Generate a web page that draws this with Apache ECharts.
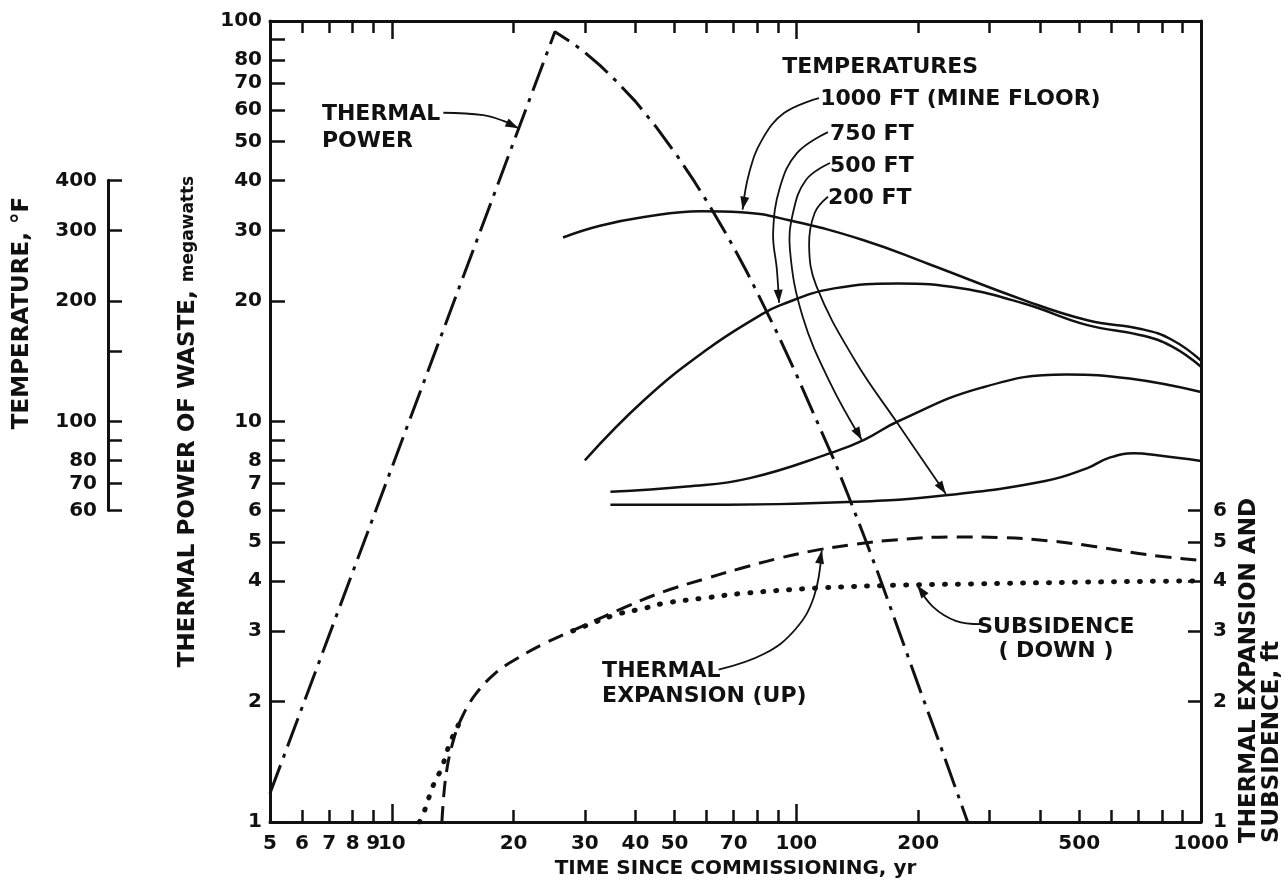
<!DOCTYPE html>
<html>
<head>
<meta charset="utf-8">
<title>Thermal power, temperatures and uplift</title>
<script src="https://cdn.jsdelivr.net/npm/echarts@6.0.0/dist/echarts.min.js"></script>
<style>
  html, body { margin: 0; background: #fff; }
  #chart { width: 1287px; height: 887px; }
</style>
</head>
<body>
<div id="chart"></div>
<script>
// ---- axis ticks / labels ----
const xTickValues = [5, 6, 7, 8, 9, 10, 20, 30, 40, 50, 60, 70, 80, 90, 100, 200, 300, 400, 500, 600, 700, 800, 900, 1000];
const xLabelValues = [5, 6, 7, 8, 9, 10, 20, 30, 40, 50, 70, 100, 200, 500, 1000];
const xMajorTicks = [10, 100];
const yTickValues = [1, 2, 3, 4, 5, 6, 7, 8, 9, 10, 20, 30, 40, 50, 60, 70, 80, 90, 100];
const yLabelValues = [1, 2, 3, 4, 5, 6, 7, 8, 10, 20, 30, 40, 50, 60, 70, 80, 100];
const ftTickValues = [2, 3, 4, 5, 6];
const ftLabelValues = [1, 2, 3, 4, 5, 6];
const tempTickValues = [60, 70, 80, 90, 100, 150, 200, 300, 400];
const tempLabelValues = [60, 70, 80, 100, 200, 300, 400];

// ---- thermal power of waste (MW) ----
const powerYears = [5, 25.3, 28, 30, 32.7, 36, 40, 45, 51, 56, 61, 66, 70, 75, 80, 90, 100, 112, 124, 135, 147, 160, 180, 203, 227, 265];
const powerMW = [1.18, 94, 88, 83.5, 77.5, 70.5, 63, 54.4, 45.7, 39.7, 34.6, 30.2, 27.2, 23.9, 21.0, 16.5, 13.1, 10.1, 8.0, 6.45, 5.17, 4.12, 2.96, 2.11, 1.55, 1.0];

// ---- temperatures (plotted on power scale, degF / 10) ----
const t1000Years = [26.5, 32.7, 42, 58, 73, 96, 146, 213, 365, 524, 715, 847, 1000];
const t1000 = [28.8, 30.8, 32.4, 33.5, 33.3, 31.8, 28.4, 24.7, 20.1, 17.9, 17.0, 16.0, 14.2];
const t750Years = [30, 42, 60, 80.5, 91, 124, 178, 255, 365, 524, 715, 847, 1000];
const t750 = [8.0, 11.3, 15.1, 18.3, 19.5, 21.5, 22.1, 21.5, 19.7, 17.4, 16.4, 15.4, 13.7];
const t500Years = [34.7, 53.6, 76.7, 124, 147, 178, 287, 465, 666, 1000];
const t500 = [6.68, 6.88, 7.22, 8.4, 9.0, 10.0, 12.15, 13.1, 12.8, 11.85];
const t200Years = [34.7, 68, 140, 237, 412, 524, 590, 682, 788, 1000];
const t200 = [6.2, 6.2, 6.3, 6.55, 7.1, 7.65, 8.1, 8.33, 8.22, 7.97];

// ---- thermal expansion (up) and subsidence (down), ft ----
const expYears = [13.3, 13.6, 14.2, 15.0, 16.2, 18, 20, 24, 30, 38, 47, 60, 73, 90, 113, 140, 175, 242, 320, 418, 550, 748, 1000];
const expFt = [1.0, 1.3, 1.6, 1.85, 2.1, 2.35, 2.53, 2.80, 3.10, 3.45, 3.76, 4.06, 4.3, 4.55, 4.78, 4.94, 5.06, 5.15, 5.13, 5.04, 4.87, 4.64, 4.5];
const subYears = [11.7, 12.1, 12.6, 13.3, 13.9, 14.5, 15.0, 20, 28, 31.4, 36, 42.3, 47.3, 60, 73, 113, 175, 270, 500, 748, 1000];
const subFt = [1.0, 1.08, 1.22, 1.37, 1.57, 1.72, 1.85, '-', 3.0, 3.14, 3.3, 3.42, 3.52, 3.63, 3.72, 3.84, 3.9, 3.93, 3.97, 3.99, 4.0];

// ---- annotations (positions in yr / MW data space) ----
const notes = [
  { text: 'THERMAL', at: [6.72, 58.6], align: 'left' },
  { text: 'POWER', at: [6.72, 50.2], align: 'left' },
  { text: 'TEMPERATURES', at: [92.2, 76.7], align: 'left' },
  { text: '1000 FT (MINE FLOOR)', at: [114.5, 63.9], align: 'left' },
  { text: '750 FT', at: [121.1, 52.2], align: 'left' },
  { text: '500 FT', at: [121.1, 43.4], align: 'left' },
  { text: '200 FT', at: [119.7, 36.1], align: 'left' },
  { text: 'THERMAL', at: [33.1, 2.38], align: 'left' },
  { text: 'EXPANSION (UP)', at: [33.1, 2.06], align: 'left' },
  { text: 'SUBSIDENCE', at: [438, 3.06], align: 'center' },
  { text: '( DOWN )', at: [438, 2.67], align: 'center' }
];
const leaders = [
  [[13.41, 59.0], [16.84, 58.2], [18.87, 56.3], [20.55, 54.0]],
  [[113.7, 64.2], [93.2, 58.9], [82.2, 50.5], [76.4, 41.7], [73.6, 33.8]],
  [[119.7, 52.8], [100.3, 46.8], [91.1, 38.5], [87.6, 29.6], [89.5, 23.9], [90.6, 19.8]],
  [[121.1, 44.2], [105.6, 40.1], [98.1, 33.2], [96.4, 26.8], [103.6, 18.3], [121.1, 12.5], [145, 9.0]],
  [[119.7, 36.4], [111, 33.2], [107.5, 27.5], [112, 21.8], [139.6, 14.2], [177.8, 9.9], [234, 6.6]],
  [[64.2, 2.4], [83.3, 2.63], [99.2, 3.02], [110.5, 3.65], [115.5, 4.76]],
  [[288, 3.12], [247.6, 3.18], [217.3, 3.45], [199, 3.9]]
];

const INK = '#111';
const FONT = 'DejaVu Sans';
const G = { left: 270, top: 21, width: 931, height: 801 };
// temperature scale (degF) sits beside the power scale: 40 MW <-> 400 F, 6 MW <-> 60 F
const yOf = v => G.top + G.height * (2 - Math.log10(v)) / 2;
const TG = { left: 108, top: yOf(40), height: yOf(6) - yOf(40), width: 1 };

const pairs = (xs, ys) => xs.map((x, i) => [x, ys[i]]);
const tickLabel = { color: INK, fontFamily: FONT, fontWeight: 'bold', fontSize: 20, formatter: v => String(+v.toPrecision(6)) };
const axisLine = { show: true, lineStyle: { color: INK, width: 3 } };
const tick = (vals, len) => ({ show: true, inside: true, length: len, customValues: vals, lineStyle: { color: INK, width: 2.5 } });

const chart = echarts.init(document.getElementById('chart'));

const logX = (extra) => Object.assign({ gridIndex: 0, type: 'log', logBase: 10, min: 5, max: 1000, splitLine: { show: false }, minorTick: { show: false } }, extra);
const logY = (extra) => Object.assign({ gridIndex: 0, type: 'log', logBase: 10, min: 1, max: 100, splitLine: { show: false }, minorTick: { show: false } }, extra);

const curve = (name, xs, ys, style, smooth) => ({
  name, type: 'line', xAxisIndex: 0, yAxisIndex: 0,
  data: pairs(xs, ys), showSymbol: false, symbol: 'none', smooth,
  lineStyle: Object.assign({ color: INK }, style)
});

chart.setOption({
  animation: false,
  backgroundColor: '#fff',
  grid: [
    Object.assign({ outerBoundsMode: 'none', containLabel: false }, G),
    Object.assign({ outerBoundsMode: 'none', containLabel: false }, TG)
  ],
  xAxis: [
    logX({
      position: 'bottom', axisLine, axisTick: tick(xTickValues, 12),
      axisLabel: Object.assign({ customValues: xLabelValues, margin: 12 }, tickLabel),
      name: 'TIME SINCE COMMISSIONING, yr', nameLocation: 'middle', nameGap: 37,
      nameTextStyle: { color: INK, fontFamily: FONT, fontWeight: 'bold', fontSize: 20 }
    }),
    logX({ position: 'top', axisLine, axisTick: tick(xTickValues, 12), axisLabel: { show: false } }),
    logX({ position: 'bottom', axisLine: { show: false }, axisTick: tick(xMajorTicks, 18), axisLabel: { show: false } }),
    logX({ position: 'top', axisLine: { show: false }, axisTick: tick(xMajorTicks, 18), axisLabel: { show: false } }),
    { gridIndex: 1, type: 'value', show: false }
  ],
  yAxis: [
    logY({
      position: 'left', axisLine, axisTick: tick(yTickValues, 15),
      axisLabel: Object.assign({ customValues: yLabelValues, margin: 8 }, tickLabel),
      name: 'THERMAL POWER OF WASTE, {m|megawatts}', nameLocation: 'middle', nameGap: 70, nameRotate: 90,
      nameTextStyle: { color: INK, fontFamily: FONT, fontWeight: 'bold', fontSize: 23,
        rich: { m: { color: INK, fontFamily: FONT, fontWeight: 'bold', fontSize: 17 } } }
    }),
    logY({
      position: 'right', axisLine, axisTick: tick(ftTickValues, 13),
      axisLabel: Object.assign({ customValues: ftLabelValues, margin: 12 }, tickLabel)
    }),
    {
      gridIndex: 1, type: 'log', logBase: 10, min: 60, max: 400, position: 'left',
      splitLine: { show: false }, axisLine, axisTick: tick(tempTickValues, 14),
      axisLabel: Object.assign({ customValues: tempLabelValues, margin: 11 }, tickLabel)
    }
  ],
  series: [
    curve('1000 FT', t1000Years, t1000, { width: 2.5 }, 0.45),
    curve('750 FT', t750Years, t750, { width: 2.5 }, 0.45),
    curve('500 FT', t500Years, t500, { width: 2.5 }, 0.45),
    curve('200 FT', t200Years, t200, { width: 2.5 }, 0.45),
    curve('Subsidence', subYears, subFt, { width: 5, type: [1, 12], cap: 'round' }, 0.35),
    curve('Thermal expansion', expYears, expFt, { width: 3, type: [16, 9] }, 0.4),
    curve('Thermal power', powerYears, powerMW, { width: 3, type: [30, 8, 4, 8] }, false)
  ]
});

// annotations, leaders with arrowheads, and the two side titles
const toPx = p => chart.convertToPixel({ xAxisIndex: 0, yAxisIndex: 0 }, p);
const noteFont = 'bold 22px "' + FONT + '"';
const elements = [];
notes.forEach(n => {
  const [x, y] = toPx(n.at);
  elements.push({ type: 'text', x, y, style: { text: n.text, font: noteFont, fill: INK, align: n.align, verticalAlign: 'middle' } });
});
leaders.forEach(line => {
  const pts = line.map(toPx);
  elements.push({ type: 'polyline', shape: { points: pts, smooth: 0.4 }, style: { stroke: INK, lineWidth: 1.8, fill: null } });
  const tip = pts[pts.length - 1];
  const prev = pts[pts.length - 2];
  const dx = tip[0] - prev[0], dy = tip[1] - prev[1];
  const d = Math.hypot(dx, dy) || 1;
  const ux = dx / d, uy = dy / d;
  const bx = tip[0] - ux * 13, by = tip[1] - uy * 13;
  elements.push({ type: 'polygon', shape: { points: [tip, [bx - uy * 4.5, by + ux * 4.5], [bx + uy * 4.5, by - ux * 4.5]] }, style: { fill: INK } });
});
elements.push({
  type: 'text', x: 22, y: 313, rotation: Math.PI / 2,
  style: { text: 'TEMPERATURE, °F', font: 'bold 23px "' + FONT + '"', fill: INK, align: 'center', verticalAlign: 'middle' }
});
elements.push({
  type: 'text', x: 1238, y: 843, rotation: Math.PI / 2,
  style: { text: 'THERMAL EXPANSION AND\nSUBSIDENCE, ft', font: 'bold 23px "' + FONT + '"', lineHeight: 23, fill: INK, align: 'left', verticalAlign: 'top' }
});
chart.setOption({ graphic: { elements } });
</script>
</body>
</html>
